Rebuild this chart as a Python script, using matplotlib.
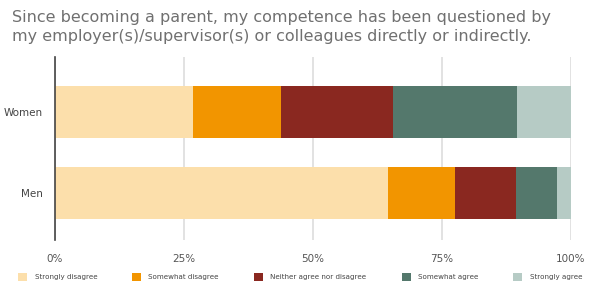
import matplotlib
matplotlib.use("Agg")
import matplotlib.pyplot as plt
from matplotlib.patches import Patch

# data (percent of respondents)
groups = ["Men", "Women"]
categories = ["Strongly disagree", "Somewhat disagree", "Neither agree nor disagree",
              "Somewhat agree", "Strongly agree"]
women = [26.7, 17.1, 21.8, 24.0, 10.4]
men = [64.5, 13.0, 11.9, 7.9, 2.7]
colors = ["#FCDFAB", "#F29500", "#8A2820", "#54786C", "#B6CBC5"]
xticks = [0, 25, 50, 75, 100]
xtick_labels = ["0%", "25%", "50%", "75%", "100%"]

title = ("Since becoming a parent, my competence has been questioned by\n"
         "my employer(s)/supervisor(s) or colleagues directly or indirectly.")

W, H, DPI = 592, 285, 100
fig = plt.figure(figsize=(W / DPI, H / DPI), dpi=DPI)
ax = fig.add_axes([55 / W, 1 - 240 / H, (571 - 55) / W, (240 - 57) / H])

values = {"Men": men, "Women": women}
for gi, g in enumerate(groups):
    left = 0
    for ci, v in enumerate(values[g]):
        ax.barh(gi, v, left=left, height=0.64, color=colors[ci], zorder=3)
        left += v

ax.set_xlim(0, 100)
ax.set_ylim(-0.58, 1.68)
ax.set_yticks(range(len(groups)))
ax.set_yticklabels(groups, fontsize=7.5, color="#444444")
ax.set_xticks(xticks)
ax.set_xticklabels(xtick_labels, fontsize=7.5, color="#555555")
ax.tick_params(axis="both", length=0)
ax.tick_params(axis="x", pad=10)
ax.tick_params(axis="y", pad=9)
ax.grid(axis="x", color="#dddddd", linewidth=1.2, zorder=0)
for s in ["top", "right", "bottom"]:
    ax.spines[s].set_visible(False)
ax.spines["left"].set_color("#444444")
ax.spines["left"].set_linewidth(1.2)
ax.spines["left"].set_zorder(4)

fig.text(12 / W, 1 - 10 / H, title, fontsize=11.5, color="#707070", va="top",
         ha="left", linespacing=1.3)

handles = [Patch(facecolor=c, edgecolor="none") for c in colors]
fig.legend(handles, categories, loc="center", bbox_to_anchor=(0.507, 1 - 277 / H),
           ncol=5, frameon=False, fontsize=5.1, handlelength=1.3, handleheight=1.3,
           columnspacing=4.95, handletextpad=1.0, labelcolor="#444444")

fig.savefig("out.png", dpi=DPI)
